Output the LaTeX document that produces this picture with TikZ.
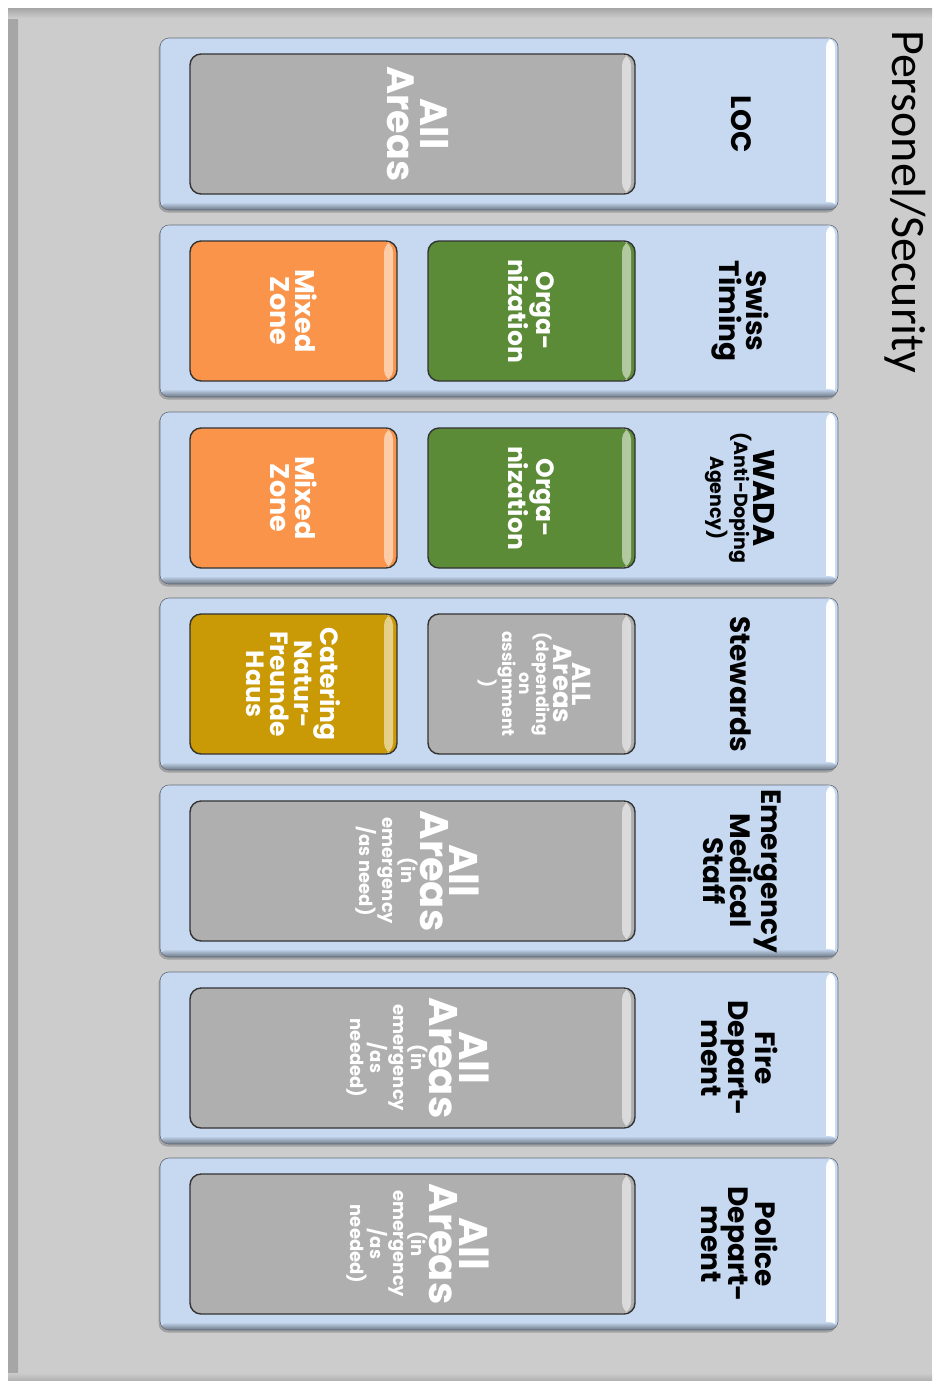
\documentclass[tikz,border=0pt]{standalone}
\usepackage{fontspec}
\setmainfont{Poppins}
\newfontfamily\titlefont{Carlito}
\usetikzlibrary{shadows}
\definecolor{panelgray}{HTML}{CCCCCC}
\definecolor{barblue}{HTML}{C6D9F1}
\definecolor{boxgray}{HTML}{AFAFAF}
\definecolor{boxorange}{HTML}{F9944A}
\definecolor{boxgreen}{HTML}{5B8B37}
\definecolor{boxgold}{HTML}{C99A06}
\newcommand{\fsz}[2]{\fontsize{#1}{#2}\selectfont}

\begin{document}
\begin{tikzpicture}[x=1pt,y=-1pt]
	\tikzset{panel/.style={fill=panelgray, inner sep=0pt, minimum width=924pt, minimum height=1372pt,
		path picture={\shade[left color=black!35, right color=panelgray] (path picture bounding box.south west) rectangle ([xshift=10pt]path picture bounding box.north west);
			\shade[top color=black!35, bottom color=panelgray] ([yshift=-10pt]path picture bounding box.north west) rectangle (path picture bounding box.north east);
			\shade[bottom color=black!30, top color=panelgray] (path picture bounding box.south west) rectangle ([yshift=7pt]path picture bounding box.south east);}}}
	\tikzset{rowbar/.style={rounded corners=9pt, fill=barblue, draw=barblue!50!black, line width=.6pt, inner sep=0pt, minimum width=678pt, minimum height=172pt,
		drop shadow={shadow xshift=-1.5pt, shadow yshift=-2.5pt, opacity=.55},
		path picture={\shade[left color=barblue, right color=white] ([xshift=-12pt]path picture bounding box.south east) rectangle ([xshift=-3pt]path picture bounding box.north east);
			\shade[top color=barblue, bottom color=barblue!55!black] ([yshift=8pt]path picture bounding box.south west) rectangle (path picture bounding box.south east);}}}
	\tikzset{areabox/.style={rounded corners=11pt, fill=#1, draw=black!80, line width=1.4pt, inner sep=0pt, minimum height=140pt,
		path picture={\shade[left color=#1, right color=white!55!#1] ([xshift=-13pt]path picture bounding box.south east) rectangle ([xshift=-4pt]path picture bounding box.north east);}}}
	\tikzset{wide/.style={minimum width=445pt}}
	\tikzset{half/.style={minimum width=207pt}}
	\tikzset{intext/.style={rotate=-90, text=white, align=center, inner sep=0pt}}
	\tikzset{rowtext/.style={rotate=-90, text=black, align=center, inner sep=0pt, font=\bfseries\fsz{28}{27}}}
		\useasboundingbox (0,0) rectangle (937,1385);
		\fill[white] (0,0) rectangle (937,1385);
		\node[panel] (panel) at (470,694) {};
		\foreach \name/\y in {loc/124, swiss/311, wada/498, stew/684, med/871, fire/1058, police/1244}
			{\node[rowbar] (\name) at (499,\y) {};}
		% area boxes
		\node[areabox=boxgray, wide] (loc-all) at (412.5,124) {};
		\foreach \name/\y in {swiss/311, wada/498}
			{\node[areabox=boxorange, half] (\name-mz) at (293.5,\y) {};
			 \node[areabox=boxgreen, half] (\name-org) at (531.5,\y) {};
			 \node[intext, font=\bfseries\fsz{27}{25}] (\name-mz-t) at (\name-mz) {Mixed\\Zone};
			 \node[intext, font=\bfseries\fsz{25}{24}] (\name-org-t) at (\name-org) {Orga-\\nization};}
		\node[areabox=boxgold, half] (stew-cat) at (293.5,684) {};
		\node[areabox=boxgray, half] (stew-all) at (531.5,684) {};
		\foreach \name/\y in {med/871, fire/1058, police/1244}
			{\node[areabox=boxgray, wide] (\name-all) at (412.5,\y) {};}
		% box texts
		\node[intext, font=\bfseries\fsz{38}{33}] (loc-all-t) at ([xshift=5pt]loc-all) {All\\Areas};
		\node[intext, font=\bfseries\fsz{25}{24}] (stew-cat-t) at (stew-cat) {Catering\\Natur-\\Freunde\\Haus};
		\node[intext, font=\bfseries\fsz{17}{17}] (stew-all-t) at ([xshift=3pt]stew-all) {{\fsz{26}{24}ALL}\\{\fsz{26}{24}Areas}\\(depending\\on\\assignment\\)};
		\node[intext, font=\bfseries\fsz{18}{19}] (med-all-t) at ([xshift=5pt]med-all) {{\fsz{40}{34}All}\\{\fsz{40}{34}Areas}\\(in\\emergency\\/as need)};
		\foreach \name in {fire, police}
			{\node[intext, font=\bfseries\fsz{18}{18}] (\name-all-t) at ([xshift=5pt]\name-all) {{\fsz{40}{34}All}\\{\fsz{40}{34}Areas}\\(in\\emergency\\/as\\needed)};}
		% labels
		\node[rowtext] (loc-lbl) at (741,124) {LOC};
		\node[rowtext] (swiss-lbl) at (740,311) {Swiss\\Timing};
		\node[rowtext, font=\bfseries\fsz{19}{19}] (wada-lbl) at (740,498) {{\fsz{30}{28}WADA}\\(Anti-Doping\\Agency)};
		\node[rowtext] (stew-lbl) at (741,684) {Stewards};
		\node[rowtext] (med-lbl) at (742,871) {Emergency\\Medical\\Staff};
		\node[rowtext] (fire-lbl) at (740,1058) {Fire\\Depart-\\ment};
		\node[rowtext] (police-lbl) at (740,1244) {Police\\Depart-\\ment};
		\node[rotate=-90, anchor=base west, inner sep=0pt, font=\titlefont\fsz{48}{48}] (title) at (892,30) {Personel/Security};
	\end{tikzpicture}
\end{document}
